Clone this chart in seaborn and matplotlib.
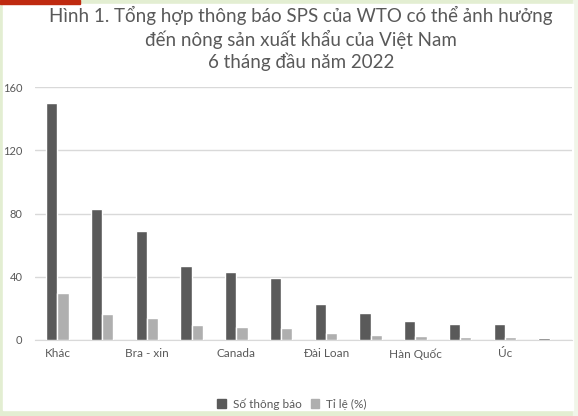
import pandas as pd
import matplotlib.pyplot as plt
import seaborn as sns
from matplotlib.patches import Rectangle, Patch

# data (every other category label is hidden in the original)
tick_labels = ["Khác", "", "Bra - xin", "", "Canada", "", "Đài Loan", "", "Hàn Quốc", "", "Úc", ""]
so_thong_bao = [150, 83, 69, 47, 43, 39, 23, 17, 12, 10, 10, 1]
ti_le = [29.8, 16.5, 13.7, 9.3, 8.5, 7.7, 4.6, 3.4, 2.4, 2.0, 2.0, 0.2]
series_names = ["Số thông báo", "Tỉ lệ (%)"]
colors = ["#5a5a5a", "#afafaf"]

rank = list(range(len(tick_labels)))
df = pd.DataFrame({
    "rank": rank * 2,
    "value": so_thong_bao + ti_le,
    "series": [series_names[0]] * len(rank) + [series_names[1]] * len(rank),
})

sns.set_style("white")
plt.rcParams['font.family'] = ['Lato', 'DejaVu Sans']
text_col = "#595959"

W, H = 578, 416
fig = plt.figure(figsize=(W / 100, H / 100), dpi=100)
fig.patch.set_facecolor("#e3eed2")

# slide background pieces
fig.patches.append(Rectangle((573 / W, 0), 5 / W, 1,
                             transform=fig.transFigure, color="#f0f5e8", zorder=-3))
fig.patches.append(Rectangle((3 / W, 1 - 410 / H), 570 / W, 406 / H,
                             transform=fig.transFigure, color="white", zorder=-2))
fig.patches.append(Rectangle((0, 1 - 4 / H), 80 / W, 4 / H,
                             transform=fig.transFigure, color="#bf2a10", zorder=-1))

ax = fig.add_axes([35 / W, 1 - 340 / H, 537 / W, 253 / H])
ax.set_facecolor("none")
sns.barplot(data=df, x="rank", y="value", hue="series", palette=colors,
            width=0.5, saturation=1, ax=ax, legend=False, zorder=3)

ax.set_ylim(0, 160)
ax.set_yticks([0, 40, 80, 120, 160])
ax.set_xticks(rank)
ax.set_xticklabels(tick_labels)
ax.set_xlabel("")
ax.set_ylabel("")
ax.grid(axis="y", color="#d9d9d9", linewidth=1, zorder=0)
sns.despine(ax=ax, left=True, right=True, top=True, bottom=False)
ax.spines["bottom"].set_color("#d9d9d9")
ax.tick_params(axis="x", length=0, pad=6, labelsize=8.5, labelcolor=text_col)
ax.tick_params(axis="y", length=0, pad=9, labelsize=8, labelcolor=text_col)

fig.text(301 / W, 1 - 6 / H,
         "Hình 1. Tổng hợp thông báo SPS của WTO có thể ảnh hưởng\n"
         "đến nông sản xuất khẩu của Việt Nam\n6 tháng đầu năm 2022",
         ha="center", va="top", fontsize=13.5, color=text_col, linespacing=1.28)

handles = [Patch(color=c) for c in colors]
fig.legend(handles, series_names, loc="center", bbox_to_anchor=(292 / W, 1 - 404 / H),
           ncol=2, frameon=False, fontsize=8.5, labelcolor=text_col,
           handlelength=0.7, handleheight=0.7, handletextpad=0.6, columnspacing=0.8)

fig.savefig("out.png", dpi=100, facecolor=fig.get_facecolor())
